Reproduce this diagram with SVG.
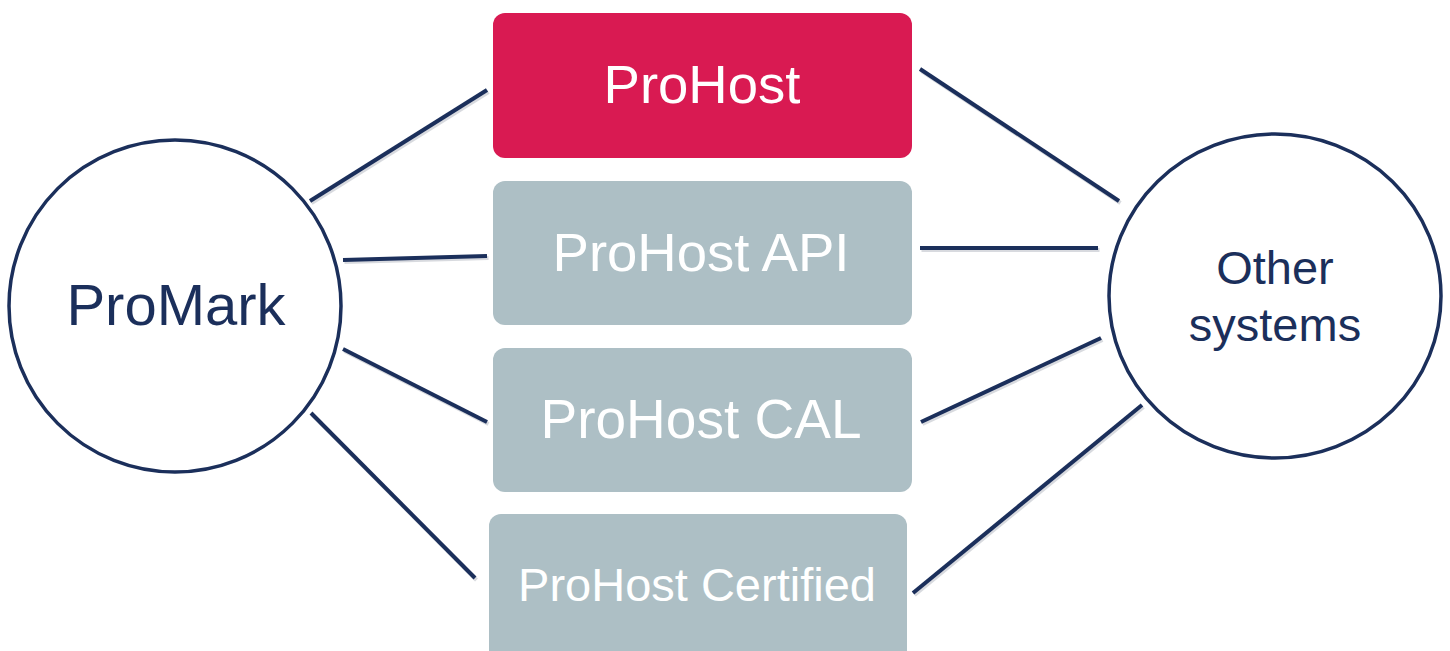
<svg xmlns="http://www.w3.org/2000/svg" width="1450" height="651" viewBox="0 0 1450 651">
<style>
.conn line{stroke:#1B2F5B;stroke-width:4;stroke-linecap:butt}
.shadow line{stroke:#BFC3CA;stroke-width:4;opacity:0.6}
.circ{fill:#FFFFFF;stroke:#1B2F5B;stroke-width:3.5}
.box{stroke:none}
.red{fill:#D91A52}
.gray{fill:#ADBFC5}
.wt{fill:#FFFFFF;font-family:"Liberation Sans",Arial,sans-serif;text-anchor:middle}
.nt{fill:#1B2F5B;font-family:"Liberation Sans",Arial,sans-serif;text-anchor:middle}
</style>
<rect width="1450" height="651" fill="#FFFFFF"/>
<g id="connectors">
<g class="shadow" transform="translate(1.5,2)">
<line x1="310" y1="201" x2="487" y2="90"/>
<line x1="343" y1="260" x2="487" y2="256"/>
<line x1="343" y1="349" x2="487" y2="422"/>
<line x1="311" y1="413" x2="475" y2="578"/>
<line x1="920" y1="69" x2="1119" y2="201"/>
<line x1="920" y1="248" x2="1098" y2="248"/>
<line x1="921" y1="422" x2="1101" y2="338"/>
<line x1="913" y1="593" x2="1142" y2="405"/>
</g>
<g class="conn">
<line x1="310" y1="201" x2="487" y2="90"/>
<line x1="343" y1="260" x2="487" y2="256"/>
<line x1="343" y1="349" x2="487" y2="422"/>
<line x1="311" y1="413" x2="475" y2="578"/>
<line x1="920" y1="69" x2="1119" y2="201"/>
<line x1="920" y1="248" x2="1098" y2="248"/>
<line x1="921" y1="422" x2="1101" y2="338"/>
<line x1="913" y1="593" x2="1142" y2="405"/>
</g>
</g>
<g id="promark">
<circle class="circ" cx="175" cy="306" r="166"/>
<text class="nt" x="176" y="325" font-size="58">ProMark</text>
</g>
<g id="other-systems">
<ellipse class="circ" cx="1275" cy="296" rx="166" ry="162"/>
<text class="nt" x="1275" y="284" font-size="47">Other</text>
<text class="nt" x="1275" y="341" font-size="47">systems</text>
</g>
<g id="prohost">
<rect class="box red" x="493" y="13" width="419" height="145" rx="12"/>
<text class="wt" x="702" y="103" font-size="54.5">ProHost</text>
</g>
<g id="prohost-api">
<rect class="box gray" x="493" y="181" width="419" height="144" rx="12"/>
<text class="wt" x="701" y="271" font-size="54.5">ProHost API</text>
</g>
<g id="prohost-cal">
<rect class="box gray" x="493" y="348" width="419" height="144" rx="12"/>
<text class="wt" x="701" y="438" font-size="55">ProHost CAL</text>
</g>
<g id="prohost-certified">
<rect class="box gray" x="489" y="514" width="418" height="150" rx="12"/>
<text class="wt" x="697" y="601" font-size="47">ProHost Certified</text>
</g>
</svg>
